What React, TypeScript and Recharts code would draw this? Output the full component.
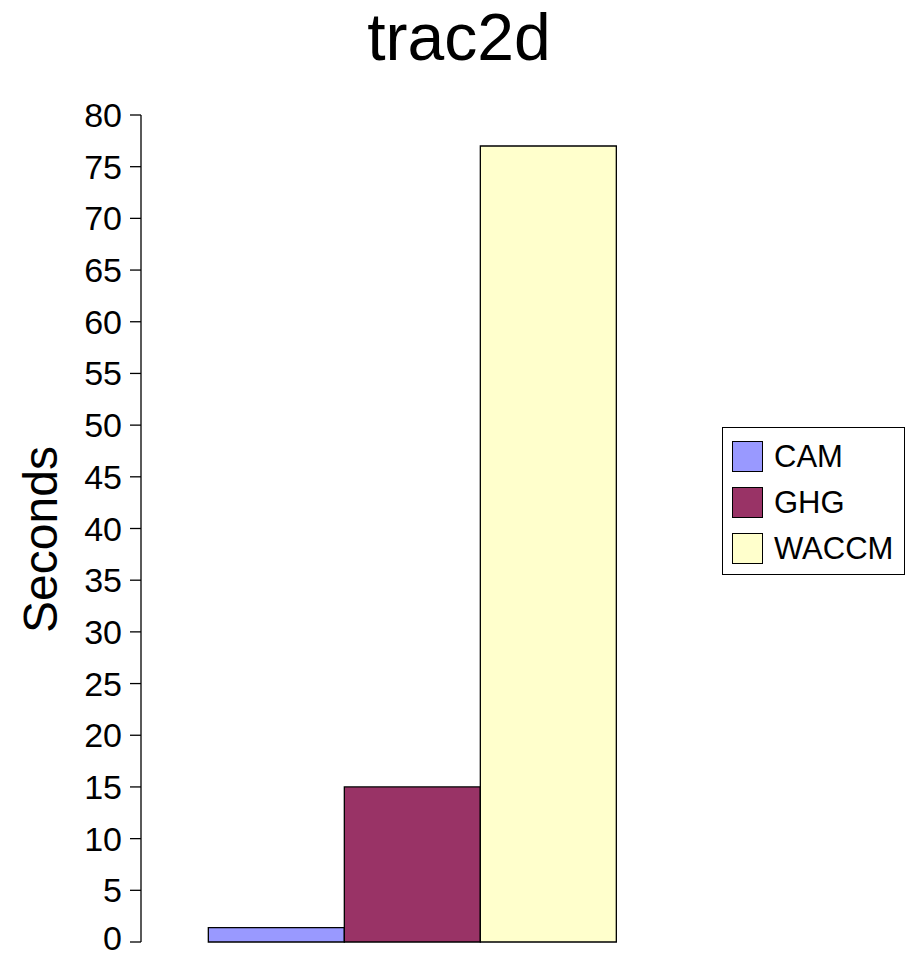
import { BarChart, Bar, XAxis, YAxis, Legend } from 'recharts'

// Timing values for the trac2d routine (seconds)
const categories = ['trac2d']
const seriesNames = ['CAM', 'GHG', 'WACCM']
const camValues = [1.4]
const ghgValues = [15]
const waccmValues = [77]
const seriesColors = ['#9999FF', '#993366', '#FFFFCC']
const yTicks = [0, 5, 10, 15, 20, 25, 30, 35, 40, 45, 50, 55, 60, 65, 70, 75, 80]

const FONT = '"Liberation Sans", Arial, Helvetica, sans-serif'

const data = categories.map((name, i) => ({
  name,
  CAM: camValues[i],
  GHG: ghgValues[i],
  WACCM: waccmValues[i],
}))

function LegendBox() {
  return (
    <div
      style={{
        border: '1px solid #000',
        background: '#fff',
        width: 183,
        height: 148,
        boxSizing: 'border-box',
        paddingTop: 13,
        paddingLeft: 9,
        fontFamily: FONT,
      }}
    >
      {seriesNames.map((s, i) => (
        <div key={s} style={{ display: 'flex', alignItems: 'center', height: 31, marginBottom: 15 }}>
          <div
            style={{
              width: 31,
              height: 31,
              flexShrink: 0,
              boxSizing: 'border-box',
              background: seriesColors[i],
              border: '1px solid #000',
            }}
          />
          <span style={{ marginLeft: 11, fontSize: 31, color: '#000', lineHeight: '31px', whiteSpace: 'nowrap' }}>{s}</span>
        </div>
      ))}
    </div>
  )
}

// y tick label; the bottom one is nudged up a little so it stays inside the frame
function YTick(props: any) {
  const { x, y, payload } = props
  const nudge = payload.value === 0 ? -4 : 0
  return (
    <text
      x={x}
      y={y + nudge}
      textAnchor="end"
      dominantBaseline="central"
      fontSize={34}
      fontFamily={FONT}
      fill="#000"
    >
      {payload.value}
    </text>
  )
}

function SecondsLabel(props: any) {
  const vb = props.viewBox || { x: 0, y: 0, height: 0 }
  const cx = vb.x + 40
  const cy = vb.y + vb.height / 2 + 11
  return (
    <text
      x={cx}
      y={cy}
      transform={`rotate(-90 ${cx} ${cy})`}
      textAnchor="middle"
      dominantBaseline="central"
      fontSize={48}
      fontFamily={FONT}
      fill="#000"
    >
      Seconds
    </text>
  )
}

export default function App() {
  return (
    <div style={{ position: 'absolute', left: 0, top: 0, width: 912, height: 958, background: '#fff' }}>
      <div
        style={{
          position: 'absolute',
          left: 0,
          top: 4,
          width: 918,
          textAlign: 'center',
          fontFamily: FONT,
          fontSize: 66,
          lineHeight: '66px',
          color: '#000',
        }}
      >
        trac2d
      </div>
      <BarChart
        width={912}
        height={958}
        data={data}
        margin={{ top: 115, right: 45, bottom: 16, left: 0 }}
        barCategoryGap="12.4%"
        barGap={0}
      >
        <XAxis
          dataKey="name"
          tick={false}
          tickLine={false}
          height={0}
          axisLine={{ stroke: '#000', strokeWidth: 1.3 }}
        />
        <YAxis
          width={141}
          domain={[0, 80]}
          ticks={yTicks}
          interval={0}
          tickSize={11}
          tickMargin={8}
          axisLine={{ stroke: '#000', strokeWidth: 1.3 }}
          tickLine={{ stroke: '#000', strokeWidth: 1.3 }}
          tick={<YTick />}
          label={<SecondsLabel />}
        />
        <Legend
          layout="vertical"
          align="right"
          verticalAlign="middle"
          content={<LegendBox />}
          wrapperStyle={{ left: 722, top: 427, width: 183, height: 148 }}
        />
        {seriesNames.map((s, i) => (
          <Bar
            key={s}
            dataKey={s}
            fill={seriesColors[i]}
            stroke="#000"
            strokeWidth={1.3}
            isAnimationActive={false}
          />
        ))}
      </BarChart>
    </div>
  )
}
